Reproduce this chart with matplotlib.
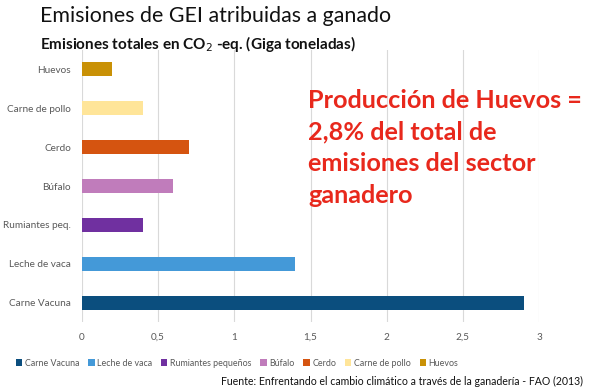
import matplotlib.pyplot as plt
from matplotlib.patches import Patch

plt.rcParams['font.family'] = ['Lato', 'DejaVu Sans']

# data (bottom to top)
categories = ['Carne Vacuna', 'Leche de vaca', 'Rumiantes peq.', 'Búfalo',
              'Cerdo', 'Carne de pollo', 'Huevos']
legend_names = ['Carne Vacuna', 'Leche de vaca', 'Rumiantes pequeños', 'Búfalo',
                'Cerdo', 'Carne de pollo', 'Huevos']
emissions = [2.9, 1.4, 0.4, 0.6, 0.7, 0.4, 0.2]
colors = ['#0B4E7E', '#4499D8', '#7030A0', '#C07CBB', '#D55410', '#FFE599', '#C99106']
xticks = [0, 0.5, 1, 1.5, 2, 2.5, 3]
xticklabels = ['0', '0,5', '1', '1,5', '2', '2,5', '3']

fig = plt.figure(figsize=(6, 3.9), dpi=100)
ax = fig.add_axes([82 / 600, 1 - 322 / 390, (539 - 82) / 600, (322 - 50) / 390])

ypos = range(len(categories))
ax.barh(ypos, emissions, height=0.36, color=colors, zorder=3)

ax.set_xlim(0, 3)
ax.set_ylim(-0.5, len(categories) - 0.5)
ax.set_xticks(xticks)
ax.set_xticklabels(xticklabels, fontsize=7.2, color='#595959')
ax.set_yticks(list(ypos))
ax.set_yticklabels(categories, fontsize=7.2, color='#595959')
ax.tick_params(length=0, pad=8)
ax.grid(axis='x', color='#D9D9D9', linewidth=0.8, zorder=0)
for s in ax.spines.values():
    s.set_visible(False)

# titles
fig.text(40 / 600, 1 - 16 / 390, 'Emisiones de GEI atribuidas a ganado',
         fontsize=15.4, ha='left', va='center', color='#111111')
fig.text(40 / 600, 1 - 44 / 390, 'Emisiones totales en CO$_2$ -eq. (Giga toneladas)',
         fontsize=11, fontweight='bold', ha='left', va='center', color='#111111')

# annotation
fig.text(308 / 600, 1 - 148 / 390,
         'Producción de Huevos =\n2,8% del total de\nemisiones del sector\nganadero',
         fontsize=18.2, fontweight='bold', color='#E8281C', ha='left', va='center',
         linespacing=1.45)

# legend
handles = [Patch(facecolor=c) for c in colors]
fig.legend(handles, legend_names, loc='center left', bbox_to_anchor=(8 / 600, 1 - 363 / 390),
           ncol=7, frameon=False, fontsize=6.4, handlelength=0.7, handleheight=0.7,
           handletextpad=0.3, columnspacing=1.0, labelcolor='#595959')

fig.text(583 / 600, 1 - 381 / 390,
         'Fuente: Enfrentando el cambio climático a través de la ganadería - FAO (2013)',
         fontsize=7.6, ha='right', va='center', color='#111111')

fig.savefig('out.png', dpi=100)
